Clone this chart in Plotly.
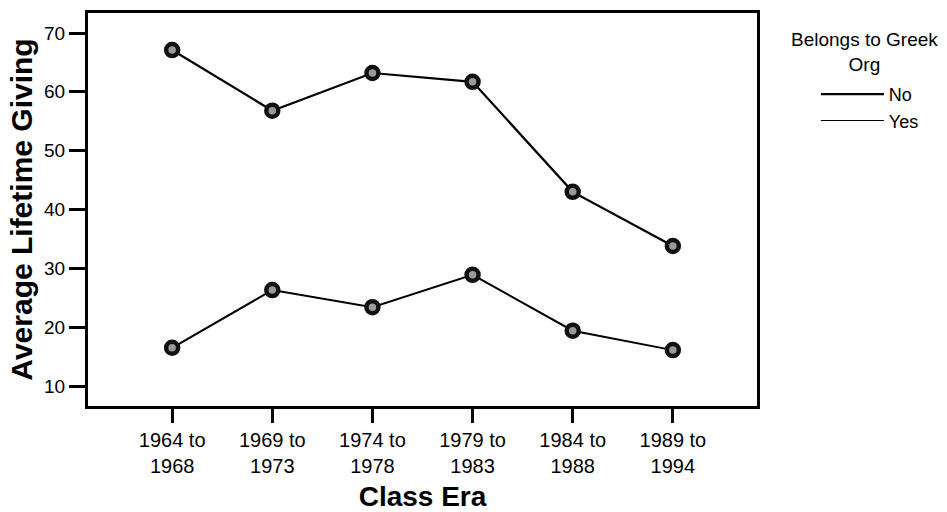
import plotly.graph_objects as go

categories = ["1964 to<br>1968", "1969 to<br>1973", "1974 to<br>1978",
              "1979 to<br>1983", "1984 to<br>1988", "1989 to<br>1994"]
no_values = [67.1, 56.8, 63.2, 61.7, 43.0, 33.8]
yes_values = [16.5, 26.3, 23.4, 28.9, 19.4, 16.1]
y_ticks = [10, 20, 30, 40, 50, 60, 70]

FONT = "Liberation Sans, Arial, sans-serif"
xs = list(range(len(categories)))

fig = go.Figure()
for name, vals, lw in [("No", no_values, 2.2), ("Yes", yes_values, 2.0)]:
    fig.add_trace(go.Scatter(
        x=xs, y=vals, name=name, mode="lines+markers",
        line=dict(color="black", width=lw),
        marker=dict(size=12, color="#9a9a9a", line=dict(color="#111", width=4.5)),
        showlegend=False,
    ))
    fig.add_trace(go.Scatter(
        x=[None], y=[None], name=name, mode="lines",
        line=dict(color="black", width=2.2 if name == "No" else 1.2),
    ))

fig.update_layout(
    width=947, height=512,
    margin=dict(l=88, r=190, t=13, b=106),
    paper_bgcolor="white", plot_bgcolor="white",
    font=dict(family=FONT, color="black", size=16),
    legend=dict(x=1.088, y=0.84, xanchor="left", yanchor="top",
                font=dict(size=18, family=FONT), itemwidth=63,
                tracegroupgap=0, bgcolor="rgba(0,0,0,0)"),
    xaxis=dict(
        range=[-0.84, 5.84], tickmode="array", tickvals=xs, ticktext=categories,
        showgrid=False, zeroline=False, showline=True, linecolor="black", linewidth=3,
        mirror=True, ticks="outside", ticklen=14, tickwidth=2.5, tickcolor="black",
        tickfont=dict(size=20), automargin=False,
        title=dict(text="<b>Class Era</b>", font=dict(size=28), standoff=12),
    ),
    yaxis=dict(
        range=[6.6, 73.4], tickmode="array", tickvals=y_ticks,
        showgrid=False, zeroline=False, showline=True, linecolor="black", linewidth=3,
        mirror=True, ticks="outside", ticklen=16, tickwidth=2.5, tickcolor="black",
        tickfont=dict(size=19), automargin=False,
        title=dict(text="<b>Average Lifetime Giving</b>", font=dict(size=30), standoff=3),
    ),
    annotations=[dict(
        text="Belongs to Greek<br>Org", xref="paper", yref="paper",
        x=1.161, y=0.965, xanchor="center", yanchor="top", showarrow=False,
        font=dict(size=19, family=FONT), align="center",
    )],
)

fig.write_html("out.html", config={"displayModeBar": False},
               post_script="document.body.style.margin='0';document.body.style.padding='0';")
